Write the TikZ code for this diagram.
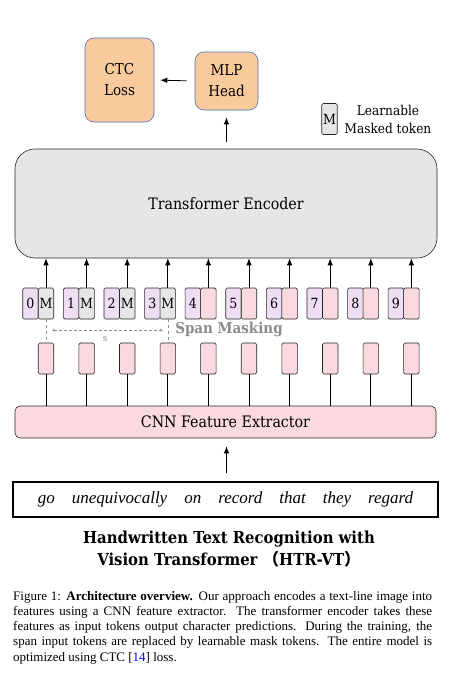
\documentclass[tikz,border=0pt]{standalone}
\usepackage{fontspec}
\setmainfont{Liberation Serif}
\newfontfamily\diagfont{DejaVu Serif Condensed}
\newfontfamily\cjk{Noto Sans CJK SC}
\usetikzlibrary{arrows.meta}
\hyphenpenalty=10000
\exhyphenpenalty=10000
\definecolor{headorange}{HTML}{F9CB9C}
\definecolor{headblue}{HTML}{4A70B8}
\definecolor{encgray}{HTML}{E6E6E6}
\definecolor{tokpink}{HTML}{FADADF}
\definecolor{tokpurple}{HTML}{EEDDF3}
\definecolor{spangray}{HTML}{8C8C8C}

\begin{document}
\begin{tikzpicture}[x=1pt,y=-1pt,>={Latex[length=7pt,width=5.5pt]}]
	\tikzset{headbox/.style={draw=headblue,fill=headorange,semithick,rounded corners=9pt,align=center,inner sep=0pt,font=\diagfont\fontsize{15}{21}\selectfont}};
	\tikzset{tokbox/.style={draw=black!85,semithick,rounded corners=1.5pt,minimum width=15.5pt,minimum height=31pt,inner sep=0pt,font=\diagfont\fontsize{14}{15}\selectfont}};
	\tikzset{bigbox/.style={draw=black!85,semithick,inner sep=0pt,font=\diagfont\fontsize{15.8}{18}\selectfont}};
	\useasboundingbox[fill=white] (0,0) rectangle (476,686);
	% heads
	\node[headbox,minimum width=69pt,minimum height=84pt] (ctc) at (119.5,80) {CTC\\Loss};
	\node[headbox,minimum width=63pt,minimum height=58pt] (mlp) at (226.5,81) {MLP\\Head};
	\draw[->,thick,shorten <=8pt,shorten >=6pt] (mlp.west) -- (ctc.east);
	% legend
	\node[tokbox,fill=encgray] (lgm) at (329.5,119) {M};
	\node[align=center,inner sep=0pt,font=\diagfont\fontsize{13.5}{18}\selectfont] (lgt) at (388,119) {Learnable\\Masked token};
	% encoder
	\node[bigbox,fill=encgray,rounded corners=20pt,minimum width=422pt,minimum height=109pt] (enc) at (226,203.5) {Transformer Encoder};
	\draw[->,thick,shorten <=7pt,shorten >=7pt] (enc.north -| mlp.south) -- (mlp.south);
	% tokens
	\foreach \i in {0,...,9}{
		\pgfmathsetmacro{\cx}{46+40.6*\i}
		\node[tokbox,fill=tokpurple] (n\i) at (\cx-15.5,303.5) {\i};
		\node[tokbox,fill=tokpink] (f\i) at (\cx,358.5) {};
	}
	\foreach \i in {0,...,3}{
		\node[tokbox,fill=encgray] (m\i) at (46+40.6*\i,303.5) {M};
	}
	\foreach \i in {4,...,9}{
		\node[tokbox,fill=tokpink] (m\i) at (46+40.6*\i,303.5) {};
	}
	\foreach \i in {0,...,9}{
		\draw[->,thick] (m\i.north) -- (m\i.north |- enc.south);
	}
	% span masking
	\draw[spangray,dashed] (m0.south) -- (f0.north);
	\draw[spangray,dashed] (m3.south) -- (f3.north);
	\coordinate (sa) at (52,330);
	\coordinate (sb) at (163,330);
	\draw[<->,>=stealth,spangray,densely dashed] (sa) -- (sb);
	\node[spangray,font=\diagfont\fontsize{9.5}{10}\selectfont] (s) at (105,339) {s};
	\node[spangray,font=\diagfont\bfseries\fontsize{15}{16}\selectfont] (span) at (229,329) {Span Masking};
	% cnn
	\node[bigbox,fill=tokpink,rounded corners=5pt,minimum width=421pt,minimum height=32pt] (cnn) at (225.5,422) {CNN Feature Extractor};
	\foreach \i in {0,...,9}{
		\draw[thick] (f\i.south) -- (f\i.south |- cnn.north);
	}
	% input image
	\node[draw,line width=2pt,minimum width=425pt,minimum height=35pt,inner sep=0pt,font=\itshape\fontsize{17}{18}\selectfont] (img) at (225.5,499.5) {go\quad unequivocally\quad on\quad record\quad that\quad they\quad regard};
	\draw[->,thick,shorten <=8pt,shorten >=8pt] (img.north -| mlp.south) -- (cnn.south -| mlp.south);
	% title and caption
	\node[align=center,inner sep=0pt,font=\diagfont\bfseries\fontsize{16.5}{22}\selectfont] (title) at (229,549) {Handwritten Text Recognition with\\Vision Transformer {\cjk\bfseries （}HTR-VT{\cjk\bfseries ）}};
	\node[anchor=north west,text width=419pt,align=justify,inner sep=0pt,font=\fontsize{13}{15.25}\selectfont] (cap) at (13,591) {Figure 1: \textbf{Architecture overview.} Our approach encodes a text-line image into features using a CNN feature extractor. The transformer encoder takes these features as input tokens output character predictions. During the training, the span input tokens are replaced by learnable mask tokens. The entire model is optimized using CTC [{\color{blue}14}] loss.};
\end{tikzpicture}
\end{document}
